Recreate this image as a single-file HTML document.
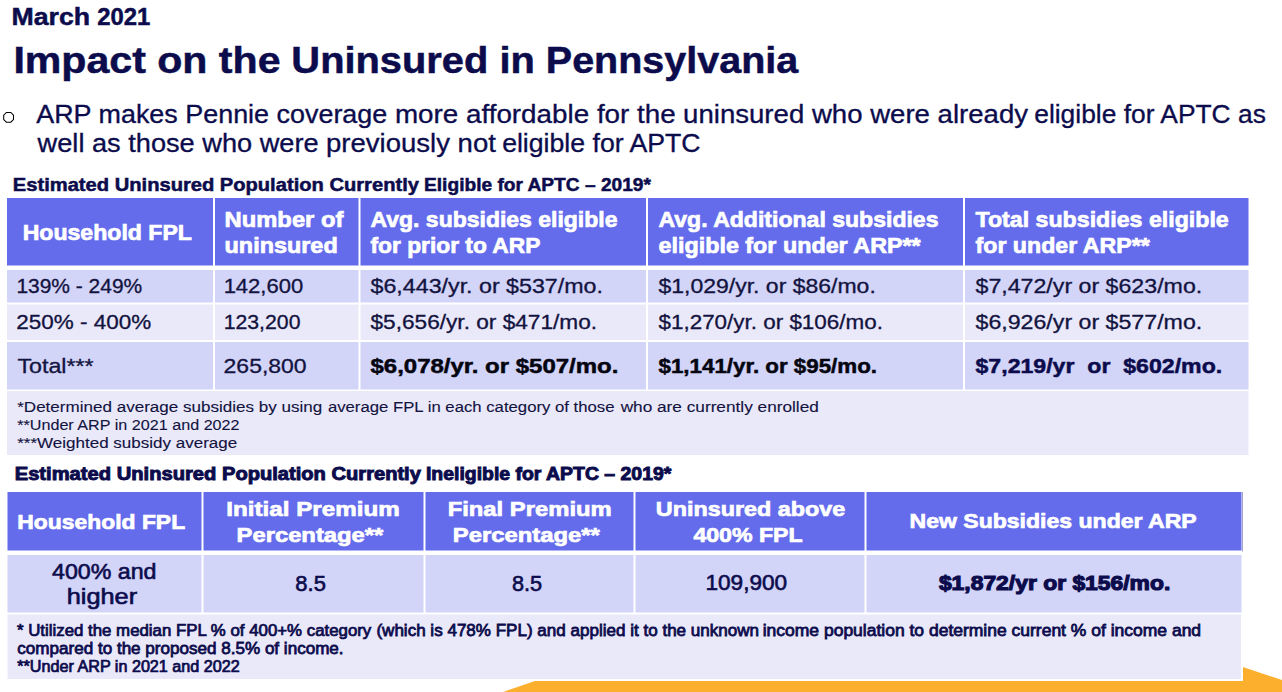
<!DOCTYPE html>
<html><head><meta charset="utf-8"><style>
html,body{margin:0;padding:0;background:#fff;width:1282px;height:692px;overflow:hidden}
svg{display:block}
text{font-family:"Liberation Sans",sans-serif}
</style></head><body>
<svg width="1282" height="692" viewBox="0 0 1282 692">
<polygon points="503,692 904,554 1282,680 1282,692" fill="#fcaf2c"/>
<rect x="5" y="196" width="1246" height="261" fill="#fff"/>
<!-- table 1 -->
<rect x="7" y="198" width="206" height="67.5" fill="#646cec"/>
<rect x="215" y="198" width="143.5" height="67.5" fill="#646cec"/>
<rect x="360.5" y="198" width="285.5" height="67.5" fill="#646cec"/>
<rect x="648" y="198" width="315" height="67.5" fill="#646cec"/>
<rect x="965" y="198" width="283.5" height="67.5" fill="#646cec"/>
<g fill="#d2d4f8">
<rect x="7" y="270" width="206" height="32.5"/><rect x="215" y="270" width="143.5" height="32.5"/><rect x="360.5" y="270" width="285.5" height="32.5"/><rect x="648" y="270" width="315" height="32.5"/><rect x="965" y="270" width="283.5" height="32.5"/>
<rect x="7" y="342" width="206" height="47.5"/><rect x="215" y="342" width="143.5" height="47.5"/><rect x="360.5" y="342" width="285.5" height="47.5"/><rect x="648" y="342" width="315" height="47.5"/><rect x="965" y="342" width="283.5" height="47.5"/>
</g>
<g fill="#eae9fa">
<rect x="7" y="304.5" width="206" height="35.5"/><rect x="215" y="304.5" width="143.5" height="35.5"/><rect x="360.5" y="304.5" width="285.5" height="35.5"/><rect x="648" y="304.5" width="315" height="35.5"/><rect x="965" y="304.5" width="283.5" height="35.5"/>
<rect x="7" y="391" width="1241.5" height="64"/>
</g>
<rect x="5" y="490" width="1238" height="191" fill="#fff"/>
<!-- table 2 -->
<rect x="7.5" y="492" width="194" height="58.5" fill="#646cec"/>
<rect x="203.5" y="492" width="220" height="58.5" fill="#646cec"/>
<rect x="425.5" y="492" width="208" height="58.5" fill="#646cec"/>
<rect x="635.5" y="492" width="229" height="58.5" fill="#646cec"/>
<rect x="866.5" y="492" width="375" height="58.5" fill="#646cec"/>
<g fill="#d2d4f8">
<rect x="7.5" y="555" width="194" height="57.5"/><rect x="203.5" y="555" width="220" height="57.5"/><rect x="425.5" y="555" width="208" height="57.5"/><rect x="635.5" y="555" width="229" height="57.5"/><rect x="866.5" y="555" width="375" height="57.5"/>
</g>
<rect x="7.5" y="614.5" width="1233.5" height="64.5" fill="#eae9fa"/>
<polygon points="6.4,112.4 10.8,112.4 13.5,115.1 13.5,119.5 10.8,122.2 6.4,122.2 3.7,119.5 3.7,115.1" fill="none" stroke="#000" stroke-width="1.05"/>
<rect x="1242" y="492" width="1" height="59.5" fill="#a4a4cc"/>

<text transform="translate(11.42 25.00) scale(1.0817 1)" font-size="24.71" font-weight="700" fill="#0c0c4c" stroke="#0c0c4c" stroke-width="0.5" xml:space="preserve">March</text>
<text transform="translate(97.20 25.00) scale(0.9658 1)" font-size="24.71" font-weight="700" fill="#0c0c4c" stroke="#0c0c4c" stroke-width="0.5" xml:space="preserve">2021</text>
<text transform="translate(13.40 72.70) scale(1.1001 1)" font-size="37.36" font-weight="700" fill="#0c0c4c" stroke="#0c0c4c" stroke-width="0.5" xml:space="preserve">Impact on the</text>
<text transform="translate(291.37 72.70) scale(1.0664 1)" font-size="37.36" font-weight="700" fill="#0c0c4c" stroke="#0c0c4c" stroke-width="0.5" xml:space="preserve">Uninsured in</text>
<text transform="translate(545.79 72.70) scale(1.0572 1)" font-size="37.36" font-weight="700" fill="#0c0c4c" stroke="#0c0c4c" stroke-width="0.5" xml:space="preserve">Pennsylvania</text>
<text transform="translate(36.20 122.70) scale(1.0769 1)" font-size="25.00" font-weight="400" fill="#0c0c4c" stroke="#0c0c4c" stroke-width="0.32" xml:space="preserve">ARP makes Pennie coverage</text>
<text transform="translate(394.89 122.70) scale(1.1127 1)" font-size="25.00" font-weight="400" fill="#0c0c4c" stroke="#0c0c4c" stroke-width="0.32" xml:space="preserve">more affordable for the</text>
<text transform="translate(683.10 122.70) scale(1.1038 1)" font-size="25.00" font-weight="400" fill="#0c0c4c" stroke="#0c0c4c" stroke-width="0.32" xml:space="preserve">uninsured who were already</text>
<text transform="translate(1034.24 122.70) scale(1.0555 1)" font-size="25.00" font-weight="400" fill="#0c0c4c" stroke="#0c0c4c" stroke-width="0.32" xml:space="preserve">eligible for APTC as</text>
<text transform="translate(37.59 151.50) scale(1.0880 1)" font-size="25.00" font-weight="400" fill="#0c0c4c" stroke="#0c0c4c" stroke-width="0.32" xml:space="preserve">well as those who were</text>
<text transform="translate(326.00 151.50) scale(1.1017 1)" font-size="25.00" font-weight="400" fill="#0c0c4c" stroke="#0c0c4c" stroke-width="0.32" xml:space="preserve">previously not</text>
<text transform="translate(502.13 151.50) scale(1.0669 1)" font-size="25.00" font-weight="400" fill="#0c0c4c" stroke="#0c0c4c" stroke-width="0.32" xml:space="preserve">eligible for APTC</text>
<text transform="translate(12.78 190.70) scale(1.1190 1)" font-size="18.02" font-weight="700" fill="#0c0c4c" stroke="#0c0c4c" stroke-width="0.5" xml:space="preserve">Estimated Uninsured</text>
<text transform="translate(219.78 190.70) scale(1.1178 1)" font-size="18.02" font-weight="700" fill="#0c0c4c" stroke="#0c0c4c" stroke-width="0.5" xml:space="preserve">Population Currently</text>
<text transform="translate(424.04 190.70) scale(1.0631 1)" font-size="18.02" font-weight="700" fill="#0c0c4c" stroke="#0c0c4c" stroke-width="0.5" xml:space="preserve">Eligible for APTC – 2019*</text>
<text transform="translate(22.66 239.90) scale(1.0387 1)" font-size="22.24" font-weight="700" fill="#ffffff" stroke="#ffffff" stroke-width="0.7" xml:space="preserve">Household FPL</text>
<text transform="translate(224.53 227.00) scale(1.0696 1)" font-size="22.24" font-weight="700" fill="#ffffff" stroke="#ffffff" stroke-width="0.7" xml:space="preserve">Number of</text>
<text transform="translate(224.55 252.50) scale(1.0527 1)" font-size="22.24" font-weight="700" fill="#ffffff" stroke="#ffffff" stroke-width="0.7" xml:space="preserve">uninsured</text>
<text transform="translate(370.50 226.90) scale(1.0342 1)" font-size="22.24" font-weight="700" fill="#ffffff" stroke="#ffffff" stroke-width="0.7" xml:space="preserve">Avg. subsidies eligible</text>
<text transform="translate(370.50 252.70) scale(1.0245 1)" font-size="22.24" font-weight="700" fill="#ffffff" stroke="#ffffff" stroke-width="0.7" xml:space="preserve">for prior to ARP</text>
<text transform="translate(658.50 226.90) scale(1.0369 1)" font-size="22.24" font-weight="700" fill="#ffffff" stroke="#ffffff" stroke-width="0.7" xml:space="preserve">Avg. Additional subsidies</text>
<text transform="translate(658.50 252.70) scale(1.0491 1)" font-size="22.24" font-weight="700" fill="#ffffff" stroke="#ffffff" stroke-width="0.7" xml:space="preserve">eligible for under ARP**</text>
<text transform="translate(975.50 226.90) scale(1.0427 1)" font-size="22.24" font-weight="700" fill="#ffffff" stroke="#ffffff" stroke-width="0.7" xml:space="preserve">Total subsidies eligible</text>
<text transform="translate(975.50 252.70) scale(1.0431 1)" font-size="22.24" font-weight="700" fill="#ffffff" stroke="#ffffff" stroke-width="0.7" xml:space="preserve">for under ARP**</text>
<text transform="translate(16.38 293.40) scale(1.0156 1)" font-size="20.64" font-weight="400" fill="#13133f" stroke="#13133f" stroke-width="0.32" xml:space="preserve">139% - 249%</text>
<text transform="translate(16.31 329.30) scale(1.0891 1)" font-size="20.64" font-weight="400" fill="#13133f" stroke="#13133f" stroke-width="0.32" xml:space="preserve">250% - 400%</text>
<text transform="translate(17.40 372.80) scale(1.1254 1)" font-size="20.64" font-weight="400" fill="#13133f" stroke="#13133f" stroke-width="0.32" xml:space="preserve">Total***</text>
<text transform="translate(223.63 293.40) scale(1.0673 1)" font-size="20.64" font-weight="400" fill="#13133f" stroke="#13133f" stroke-width="0.32" xml:space="preserve">142,600</text>
<text transform="translate(223.67 329.30) scale(1.0303 1)" font-size="20.64" font-weight="400" fill="#13133f" stroke="#13133f" stroke-width="0.32" xml:space="preserve">123,200</text>
<text transform="translate(223.59 372.80) scale(1.1124 1)" font-size="20.64" font-weight="400" fill="#13133f" stroke="#13133f" stroke-width="0.32" xml:space="preserve">265,800</text>
<text transform="translate(370.50 293.40) scale(1.1263 1)" font-size="20.64" font-weight="400" fill="#13133f" stroke="#13133f" stroke-width="0.32" xml:space="preserve">$6,443/yr. or $537/mo.</text>
<text transform="translate(370.50 329.30) scale(1.0980 1)" font-size="20.64" font-weight="400" fill="#13133f" stroke="#13133f" stroke-width="0.32" xml:space="preserve">$5,656/yr. or $471/mo.</text>
<text transform="translate(370.50 372.80) scale(1.1617 1)" font-size="20.64" font-weight="700" fill="#050510" stroke="#050510" stroke-width="0.5" xml:space="preserve">$6,078/yr. or $507/mo.</text>
<text transform="translate(658.50 293.40) scale(1.1145 1)" font-size="20.64" font-weight="400" fill="#13133f" stroke="#13133f" stroke-width="0.32" xml:space="preserve">$1,029/yr. or $86/mo.</text>
<text transform="translate(658.50 329.30) scale(1.0867 1)" font-size="20.64" font-weight="400" fill="#13133f" stroke="#13133f" stroke-width="0.32" xml:space="preserve">$1,270/yr. or $106/mo.</text>
<text transform="translate(658.50 372.80) scale(1.0827 1)" font-size="20.64" font-weight="700" fill="#050510" stroke="#050510" stroke-width="0.5" xml:space="preserve">$1,141/yr. or $95/mo.</text>
<text transform="translate(975.50 293.40) scale(1.1232 1)" font-size="20.64" font-weight="400" fill="#13133f" stroke="#13133f" stroke-width="0.32" xml:space="preserve">$7,472/yr or $623/mo.</text>
<text transform="translate(975.50 329.30) scale(1.1232 1)" font-size="20.64" font-weight="400" fill="#13133f" stroke="#13133f" stroke-width="0.32" xml:space="preserve">$6,926/yr or $577/mo.</text>
<text transform="translate(975.50 372.80) scale(1.1203 1)" font-size="20.64" font-weight="700" fill="#0c0c4c" stroke="#0c0c4c" stroke-width="0.5" xml:space="preserve">$7,219/yr  or  $602/mo.</text>
<text transform="translate(17.20 411.80) scale(1.1179 1)" font-size="15.26" font-weight="400" fill="#13133f" stroke="#13133f" stroke-width="0.12" xml:space="preserve">*Determined average subsidies by using</text>
<text transform="translate(327.90 411.80) scale(1.0969 1)" font-size="15.26" font-weight="400" fill="#13133f" stroke="#13133f" stroke-width="0.12" xml:space="preserve">average FPL in each category of those</text>
<text transform="translate(620.63 411.80) scale(1.1302 1)" font-size="15.26" font-weight="400" fill="#13133f" stroke="#13133f" stroke-width="0.12" xml:space="preserve">who are currently enrolled</text>
<text transform="translate(17.20 429.60) scale(1.0592 1)" font-size="15.26" font-weight="400" fill="#13133f" stroke="#13133f" stroke-width="0.12" xml:space="preserve">**Under ARP in 2021 and 2022</text>
<text transform="translate(17.20 448.00) scale(1.1150 1)" font-size="15.26" font-weight="400" fill="#13133f" stroke="#13133f" stroke-width="0.12" xml:space="preserve">***Weighted subsidy average</text>
<text transform="translate(14.71 480.30) scale(1.0926 1)" font-size="18.46" font-weight="700" fill="#0c0c4c" stroke="#0c0c4c" stroke-width="0.95" xml:space="preserve">Estimated Uninsured</text>
<text transform="translate(222.01 480.30) scale(1.0902 1)" font-size="18.46" font-weight="700" fill="#0c0c4c" stroke="#0c0c4c" stroke-width="0.95" xml:space="preserve">Population Currently</text>
<text transform="translate(425.95 480.30) scale(1.0534 1)" font-size="18.46" font-weight="700" fill="#0c0c4c" stroke="#0c0c4c" stroke-width="0.95" xml:space="preserve">Ineligible for APTC – 2019*</text>
<text transform="translate(17.30 528.80) scale(1.1010 1)" font-size="20.79" font-weight="700" fill="#ffffff" stroke="#ffffff" stroke-width="0.7" xml:space="preserve">Household FPL</text>
<text transform="translate(226.34 516.40) scale(1.1636 1)" font-size="20.79" font-weight="700" fill="#ffffff" stroke="#ffffff" stroke-width="0.7" xml:space="preserve">Initial Premium</text>
<text transform="translate(236.56 542.40) scale(1.1449 1)" font-size="20.79" font-weight="700" fill="#ffffff" stroke="#ffffff" stroke-width="0.7" xml:space="preserve">Percentage**</text>
<text transform="translate(447.65 516.40) scale(1.1460 1)" font-size="20.79" font-weight="700" fill="#ffffff" stroke="#ffffff" stroke-width="0.7" xml:space="preserve">Final Premium</text>
<text transform="translate(452.85 542.40) scale(1.1465 1)" font-size="20.79" font-weight="700" fill="#ffffff" stroke="#ffffff" stroke-width="0.7" xml:space="preserve">Percentage**</text>
<text transform="translate(655.78 516.00) scale(1.1239 1)" font-size="20.79" font-weight="700" fill="#ffffff" stroke="#ffffff" stroke-width="0.7" xml:space="preserve">Uninsured above</text>
<text transform="translate(693.40 542.20) scale(1.1126 1)" font-size="20.79" font-weight="700" fill="#ffffff" stroke="#ffffff" stroke-width="0.7" xml:space="preserve">400% FPL</text>
<text transform="translate(909.49 528.30) scale(1.1091 1)" font-size="20.79" font-weight="700" fill="#ffffff" stroke="#ffffff" stroke-width="0.7" xml:space="preserve">New Subsidies under ARP</text>
<text transform="translate(52.00 578.50) scale(1.0785 1)" font-size="21.51" font-weight="400" fill="#0c0c4c" stroke="#0c0c4c" stroke-width="0.6" xml:space="preserve">400% and</text>
<text transform="translate(66.72 603.50) scale(1.1774 1)" font-size="21.51" font-weight="400" fill="#0c0c4c" stroke="#0c0c4c" stroke-width="0.6" xml:space="preserve">higher</text>
<text transform="translate(295.30 590.80) scale(1.0224 1)" font-size="21.51" font-weight="400" fill="#0c0c4c" stroke="#0c0c4c" stroke-width="0.6" xml:space="preserve">8.5</text>
<text transform="translate(511.90 590.80) scale(1.0090 1)" font-size="21.51" font-weight="400" fill="#0c0c4c" stroke="#0c0c4c" stroke-width="0.6" xml:space="preserve">8.5</text>
<text transform="translate(705.45 590.30) scale(1.0513 1)" font-size="21.51" font-weight="400" fill="#0c0c4c" stroke="#0c0c4c" stroke-width="0.6" xml:space="preserve">109,900</text>
<text transform="translate(938.90 590.10) scale(1.0855 1)" font-size="21.08" font-weight="700" fill="#0c0c4c" stroke="#0c0c4c" stroke-width="1.15" xml:space="preserve">$1,872/yr or $156/mo.</text>
<text transform="translate(17.00 635.60) scale(1.0529 1)" font-size="15.99" font-weight="400" fill="#0c0c4c" stroke="#0c0c4c" stroke-width="0.75" xml:space="preserve">* Utilized the median FPL % of 400+% category</text>
<text transform="translate(376.40 635.60) scale(1.0664 1)" font-size="15.99" font-weight="400" fill="#0c0c4c" stroke="#0c0c4c" stroke-width="0.75" xml:space="preserve">(which is 478% FPL) and applied it to the unknown</text>
<text transform="translate(762.71 635.60) scale(1.0942 1)" font-size="15.99" font-weight="400" fill="#0c0c4c" stroke="#0c0c4c" stroke-width="0.75" xml:space="preserve">income population to determine current % of income and</text>
<text transform="translate(17.30 653.70) scale(1.0677 1)" font-size="15.99" font-weight="400" fill="#0c0c4c" stroke="#0c0c4c" stroke-width="0.75" xml:space="preserve">compared to the proposed 8.5% of income.</text>
<text transform="translate(17.30 671.80) scale(1.0109 1)" font-size="15.99" font-weight="400" fill="#0c0c4c" stroke="#0c0c4c" stroke-width="0.75" xml:space="preserve">**Under ARP in 2021 and 2022</text>
</svg>
</body></html>
